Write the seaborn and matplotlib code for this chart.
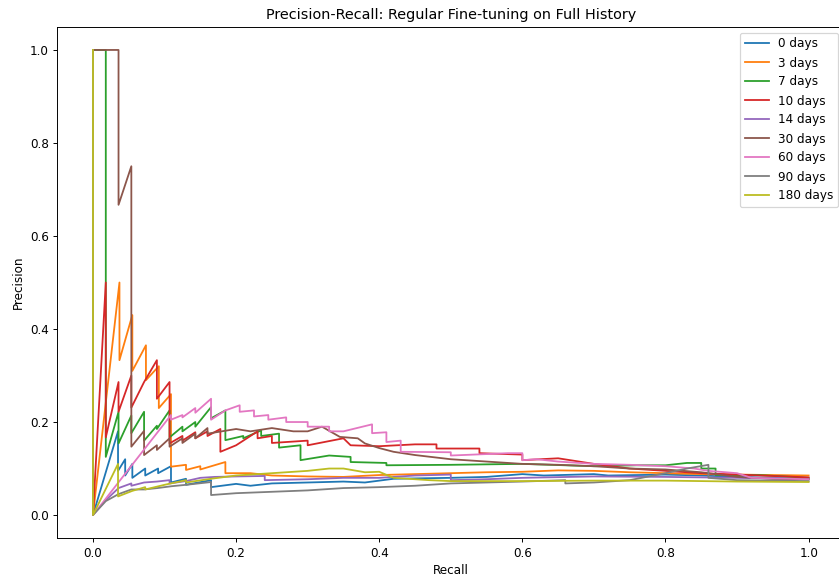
import matplotlib
matplotlib.use("Agg")
import matplotlib.pyplot as plt
import seaborn as sns
import pandas as pd

labels = ["0 days", "3 days", "7 days", "10 days", "14 days", "30 days", "60 days", "90 days", "180 days"]

recall_0 = [0, 0, 0.035, 0.035, 0.045, 0.045, 0.055, 0.055, 0.073, 0.073, 0.091, 0.091, 0.109, 0.109, 0.13, 0.13,
            0.165, 0.165, 0.2, 0.22, 0.25, 0.3, 0.35, 0.38, 0.42, 0.5, 0.55, 0.6, 0.63, 0.7, 0.72, 0.8, 0.85, 0.9, 0.95, 1.0]
prec_0 = [1, 0, 0.18, 0.095, 0.12, 0.085, 0.11, 0.08, 0.10, 0.085, 0.10, 0.09, 0.105, 0.07, 0.078, 0.065,
          0.075, 0.06, 0.067, 0.063, 0.068, 0.07, 0.072, 0.07, 0.078, 0.08, 0.082, 0.088, 0.085, 0.088, 0.085, 0.087, 0.085, 0.082, 0.08, 0.078]

recall_3 = [0, 0, 0.037, 0.037, 0.055, 0.055, 0.074, 0.074, 0.092, 0.092, 0.109, 0.109, 0.13, 0.13, 0.15, 0.15,
            0.185, 0.185, 0.22, 0.25, 0.3, 0.35, 0.4, 0.45, 0.5, 0.55, 0.6, 0.65, 0.7, 0.75, 0.8, 0.85, 0.9, 1.0]
prec_3 = [1, 0, 0.5, 0.333, 0.43, 0.31, 0.365, 0.29, 0.32, 0.23, 0.26, 0.104, 0.108, 0.097, 0.105, 0.098,
          0.114, 0.09, 0.09, 0.085, 0.083, 0.082, 0.086, 0.088, 0.09, 0.092, 0.093, 0.096, 0.095, 0.092, 0.09, 0.088, 0.087, 0.085]

recall_7 = [0, 0.0179, 0.0179, 0.0357, 0.0357, 0.0536, 0.0536, 0.0714, 0.0714, 0.0893, 0.0893, 0.107, 0.107,
            0.125, 0.125, 0.143, 0.143, 0.165, 0.165, 0.185, 0.185, 0.21, 0.21, 0.235, 0.235, 0.26, 0.26, 0.29, 0.29,
            0.33, 0.36, 0.36, 0.41, 0.41, 0.5, 0.6, 0.7, 0.76, 0.8, 0.83, 0.85, 0.85, 0.87, 0.87, 0.93, 1.0]
prec_7 = [1, 1.0, 0.125, 0.222, 0.154, 0.214, 0.176, 0.222, 0.16, 0.192, 0.185, 0.225, 0.167,
          0.19, 0.18, 0.2, 0.19, 0.232, 0.208, 0.225, 0.161, 0.17, 0.165, 0.182, 0.17, 0.175, 0.145, 0.15, 0.118,
          0.128, 0.125, 0.114, 0.112, 0.107, 0.108, 0.11, 0.105, 0.107, 0.107, 0.112, 0.112, 0.1, 0.1, 0.086, 0.086, 0.08]

recall_10 = [0, 0, 0.0179, 0.0179, 0.0357, 0.0357, 0.0536, 0.0536, 0.0714, 0.0893, 0.0893, 0.107, 0.107,
             0.125, 0.125, 0.143, 0.143, 0.16, 0.16, 0.178, 0.178, 0.2, 0.21, 0.23, 0.23, 0.25, 0.25, 0.3, 0.3,
             0.35, 0.36, 0.4, 0.45, 0.48, 0.48, 0.54, 0.54, 0.6, 0.6, 0.65, 0.7, 0.75, 0.8, 0.85, 0.9, 0.95, 1.0]
prec_10 = [1, 0, 0.5, 0.167, 0.286, 0.222, 0.3, 0.231, 0.286, 0.333, 0.25, 0.286, 0.154,
           0.17, 0.16, 0.178, 0.165, 0.18, 0.17, 0.185, 0.136, 0.15, 0.16, 0.18, 0.165, 0.17, 0.155, 0.16, 0.15,
           0.165, 0.15, 0.148, 0.152, 0.152, 0.143, 0.143, 0.133, 0.13, 0.118, 0.122, 0.11, 0.1, 0.095, 0.09, 0.087, 0.084, 0.081]

recall_14 = [0, 0, 0.0179, 0.0357, 0.0536, 0.0536, 0.0714, 0.0893, 0.107, 0.107, 0.13, 0.15, 0.17, 0.2, 0.24, 0.24,
             0.3, 0.35, 0.4, 0.45, 0.5, 0.5, 0.55, 0.6, 0.7, 0.8, 0.9, 1.0]
prec_14 = [1, 0, 0.032, 0.058, 0.068, 0.063, 0.07, 0.072, 0.075, 0.068, 0.073, 0.08, 0.082, 0.083, 0.084, 0.075,
           0.077, 0.08, 0.08, 0.085, 0.087, 0.075, 0.077, 0.08, 0.083, 0.082, 0.08, 0.077]

recall_30 = [0, 0.0357, 0.0357, 0.0536, 0.0536, 0.0714, 0.0714, 0.0893, 0.0893, 0.107, 0.107, 0.125, 0.125, 0.143, 0.143,
             0.16, 0.16, 0.18, 0.2, 0.22, 0.25, 0.28, 0.3, 0.32, 0.345, 0.37, 0.38, 0.4, 0.42, 0.45, 0.5, 0.55, 0.6,
             0.65, 0.7, 0.75, 0.8, 0.85, 0.9, 0.95, 1.0]
prec_30 = [1, 1.0, 0.667, 0.75, 0.147, 0.181, 0.129, 0.15, 0.14, 0.165, 0.147, 0.165, 0.155, 0.175, 0.165,
           0.187, 0.175, 0.18, 0.185, 0.18, 0.187, 0.18, 0.18, 0.19, 0.168, 0.165, 0.154, 0.144, 0.136, 0.129, 0.12, 0.115, 0.11,
           0.108, 0.105, 0.1, 0.098, 0.092, 0.082, 0.078, 0.077]

recall_60 = [0, 0, 0.109, 0.109, 0.125, 0.125, 0.143, 0.143, 0.165, 0.165, 0.185, 0.205, 0.205, 0.225, 0.225, 0.245, 0.245,
             0.27, 0.27, 0.3, 0.3, 0.33, 0.33, 0.35, 0.39, 0.39, 0.41, 0.41, 0.43, 0.43, 0.5, 0.5, 0.58, 0.6, 0.6, 0.62,
             0.65, 0.7, 0.75, 0.8, 0.84, 0.86, 0.9, 0.92, 1.0]
prec_60 = [1, 0, 0.215, 0.205, 0.215, 0.21, 0.23, 0.22, 0.25, 0.205, 0.225, 0.236, 0.222, 0.225, 0.212, 0.215, 0.205,
           0.21, 0.2, 0.2, 0.19, 0.19, 0.18, 0.18, 0.195, 0.176, 0.178, 0.157, 0.16, 0.136, 0.135, 0.128, 0.133, 0.133, 0.118, 0.12,
           0.115, 0.11, 0.108, 0.105, 0.1, 0.095, 0.09, 0.08, 0.077]

recall_90 = [0, 0, 0.0179, 0.0357, 0.0536, 0.0714, 0.09, 0.11, 0.13, 0.165, 0.165, 0.2, 0.25, 0.3, 0.35, 0.4, 0.45,
             0.5, 0.55, 0.6, 0.66, 0.66, 0.7, 0.75, 0.8, 0.83, 0.86, 0.86, 0.9, 1.0]
prec_90 = [1, 0, 0.03, 0.045, 0.055, 0.055, 0.058, 0.062, 0.065, 0.071, 0.043, 0.047, 0.05, 0.053, 0.058, 0.06, 0.063,
           0.068, 0.07, 0.072, 0.075, 0.068, 0.07, 0.075, 0.09, 0.1, 0.108, 0.08, 0.075, 0.073]

recall_180 = [0, 0, 0.035, 0.035, 0.055, 0.073, 0.073, 0.1, 0.13, 0.13, 0.165, 0.2, 0.25, 0.3, 0.33, 0.35, 0.38, 0.4,
              0.42, 0.47, 0.5, 0.6, 0.7, 0.8, 0.9, 1.0]
prec_180 = [1, 0, 0.11, 0.04, 0.052, 0.06, 0.055, 0.065, 0.075, 0.07, 0.078, 0.085, 0.09, 0.095, 0.1, 0.1, 0.092, 0.093,
            0.08, 0.075, 0.073, 0.073, 0.074, 0.074, 0.072, 0.071]

recalls = [recall_0, recall_3, recall_7, recall_10, recall_14, recall_30, recall_60, recall_90, recall_180]
precs = [prec_0, prec_3, prec_7, prec_10, prec_14, prec_30, prec_60, prec_90, prec_180]

DPI = 86.4
fig = plt.figure(figsize=(839 / DPI, 578 / DPI), dpi=DPI)
ax = fig.add_axes([57.2 / 839, (578 - 538.3) / 578, 787.2 / 839, 511.6 / 578])

palette = sns.color_palette("tab10", 10)
for i, (lab, r, p) in enumerate(zip(labels, recalls, precs)):
    df = pd.DataFrame({"Recall": r, "Precision": p})
    sns.lineplot(data=df, x="Recall", y="Precision", sort=False, estimator=None,
                 color=palette[i], label=lab, ax=ax, linewidth=1.5)

ax.set_xlim(-0.05, 1.05)
ax.set_ylim(-0.05, 1.05)
ax.set_xticks([0.0, 0.2, 0.4, 0.6, 0.8, 1.0])
ax.set_yticks([0.0, 0.2, 0.4, 0.6, 0.8, 1.0])
ax.set_xlabel("Recall", fontsize=10)
ax.set_ylabel("Precision", fontsize=10)
ax.set_title("Precision-Recall: Regular Fine-tuning on Full History", fontsize=12)
ax.legend(loc="upper right", fontsize=10)

fig.savefig("out.png", dpi=DPI)
